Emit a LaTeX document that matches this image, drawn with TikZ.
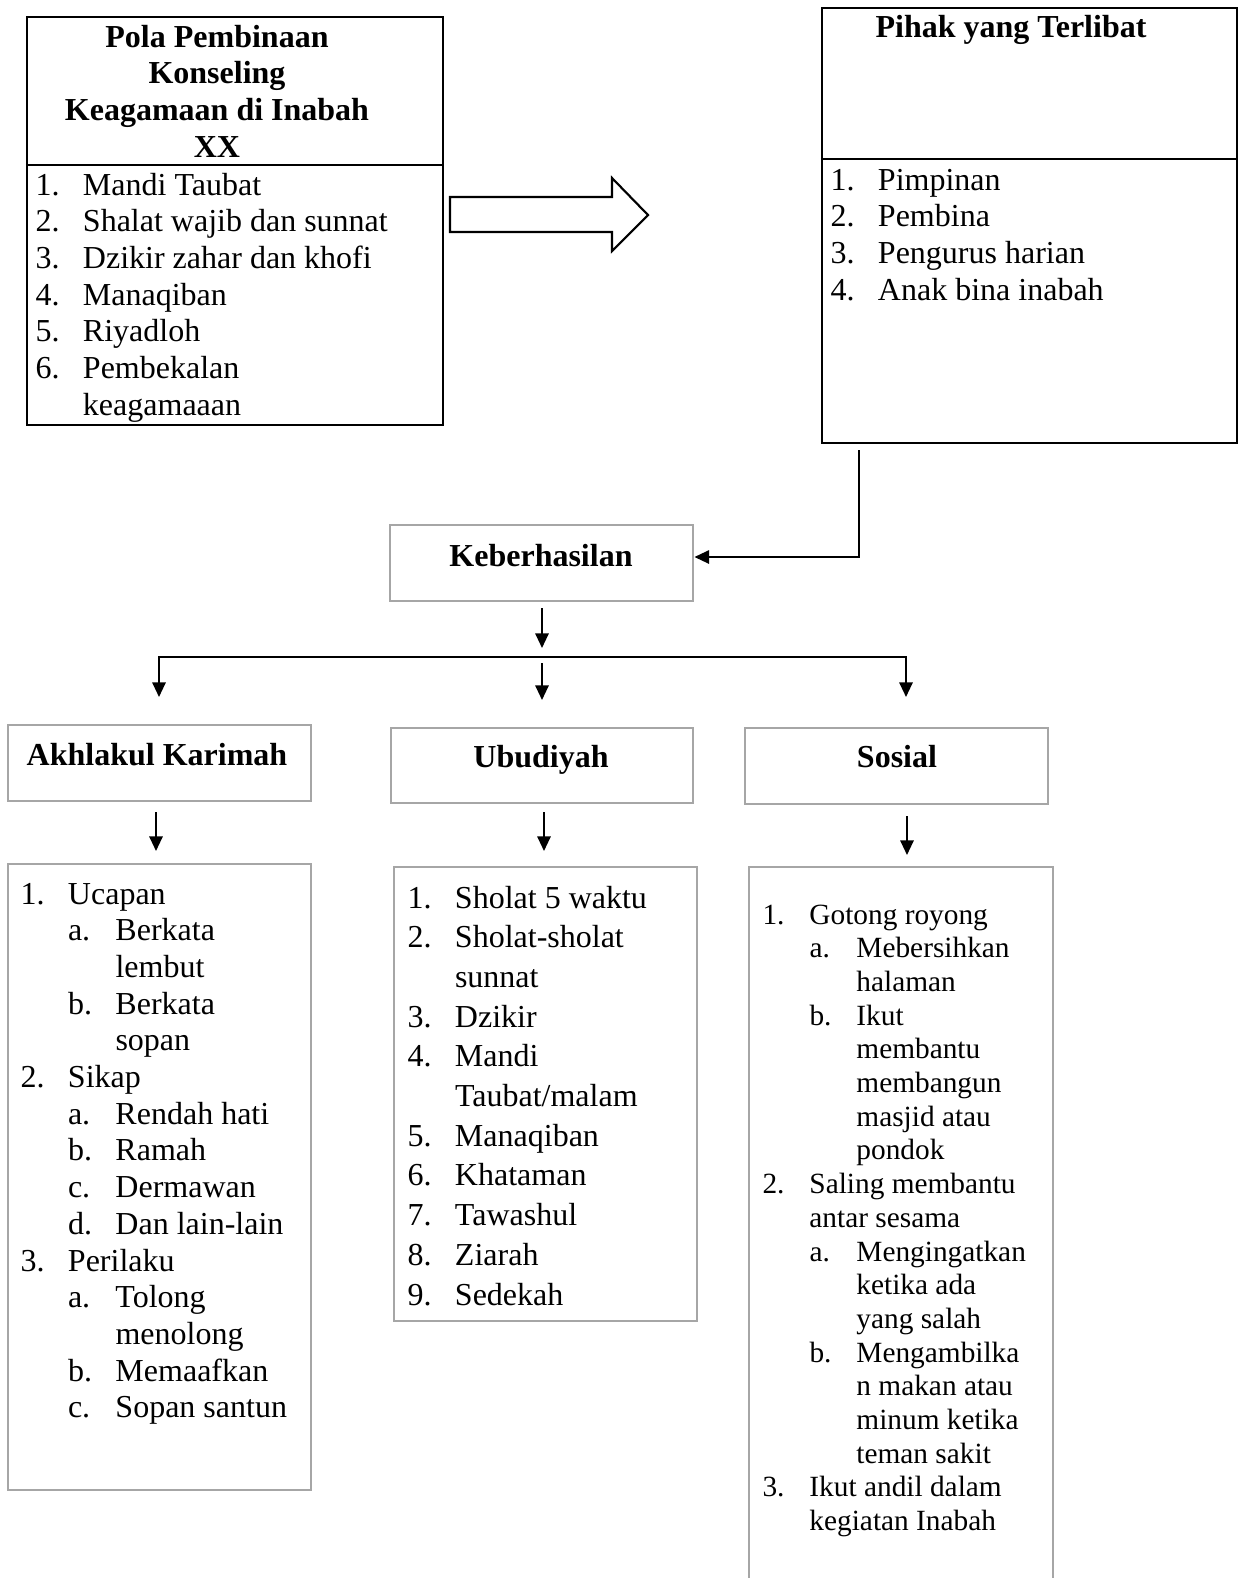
\documentclass[tikz,border=0pt]{standalone}
\usepackage{fontspec}
\setmainfont{Liberation Serif}
\usetikzlibrary{arrows.meta,fit,calc}
\begin{document}
\begin{tikzpicture}[x=0.375pt,y=-0.375pt,
  box/.style={draw, line width=0.8pt, inner sep=0pt},
  gbox/.style={draw=black!35, line width=1.1pt, inner sep=0pt},
  arr/.style={line width=0.75pt, -{Triangle[length=5.5pt,width=5pt]}},
  arrboth/.style={line width=0.75pt, {Triangle[length=5.5pt,width=5pt]}-{Triangle[length=5.5pt,width=5pt]}},
  ln/.style={line width=0.75pt},
  txt/.style={inner sep=0pt, font=\fontsize{12pt}{14pt}\selectfont, anchor=base west},
  stxt/.style={inner sep=0pt, font=\fontsize{11pt}{13pt}\selectfont, anchor=base west},
  ttl/.style={inner sep=0pt, font=\fontsize{12pt}{14pt}\selectfont\bfseries, anchor=base},
]
\clip (0,0) rectangle (1240,1578);
\fill[white] (0,0) rectangle (1240,1578);

% ---------- top-left box ----------
\node[box, fit={(27,17) (443,425)}] (box1) {};
\draw[box] ($(box1.north west)+(0,149)$) -- ($(box1.north east)+(0,149)$);
\foreach \t [count=\i] in {Pola Pembinaan, Konseling, Keagamaan di Inabah, XX}
  \node[ttl] (ta-\i) at ({217},{47+(\i-1)*36.7}) {\t};
\foreach \lv/\lb/\tx [count=\i] in {0/1./Mandi Taubat, 0/2./Shalat wajib dan sunnat, 0/3./Dzikir zahar dan khofi, 0/4./Manaqiban, 0/5./Riyadloh, 0/6./Pembekalan, 0//keagamaaan}
  \node[txt] (la-\i) at ({35+\lv*47.5},{195+(\i-1)*36.7}) {\makebox[17.8pt][l]{\lb}\tx};

% ---------- block arrow ----------
\draw[line width=0.8pt, fill=white] (450,197) -- (612,197) -- (612,178) -- (648,215) -- (612,251) -- (612,232) -- (450,232) -- cycle;

% ---------- top-right box ----------
\node[box, fit={(822,8) (1237,443)}] (box2) {};
\draw[box] ($(box2.north west)+(0,152)$) -- ($(box2.north east)+(0,152)$);
\node[ttl] (tb) at (1011,37) {Pihak yang Terlibat};
\foreach \lv/\lb/\tx [count=\i] in {0/1./Pimpinan, 0/2./Pembina, 0/3./Pengurus harian, 0/4./Anak bina inabah}
  \node[txt] (lb-\i) at ({830+\lv*47.5},{190+(\i-1)*36.7}) {\makebox[17.8pt][l]{\lb}\tx};

% ---------- Keberhasilan ----------
\node[gbox, fit={(390,525) (693,601)}] (keb) {};
\node[ttl] (tkeb) at (541,566) {Keberhasilan};
\coordinate (c1) at (859,450);
\draw[arr] (c1) |- ([yshift=2.25pt]keb.east);

\coordinate (k1) at (542,608);
\coordinate (k2) at (542,648);
\draw[arr] (k1) -- (k2);

\coordinate (bl) at (159,657);
\coordinate (br) at (906,657);
\draw[arrboth] ($(bl)+(0,40)$) -- (bl) -- (br) -- ($(br)+(0,40)$);
\coordinate (m1) at (542,663);
\coordinate (m2) at (542,700);
\draw[arr] (m1) -- (m2);

% ---------- second row ----------
\node[gbox, fit={(8,725) (311,801)}] (ak) {};
\node[ttl] (tak) at (157,765) {Akhlakul Karimah};
\node[gbox, fit={(391,728) (693,803)}] (ub) {};
\node[ttl] (tub) at (541,767) {Ubudiyah};
\node[gbox, fit={(745,728) (1048,804)}] (so) {};
\node[ttl] (tso) at (897,767) {Sosial};

\coordinate (a1) at (156,812);
\coordinate (a2) at (156,851);
\draw[arr] (a1) -- (a2);
\coordinate (u1) at (544,812);
\coordinate (u2) at (544,851);
\draw[arr] (u1) -- (u2);
\coordinate (s1) at (907,816);
\coordinate (s2) at (907,855);
\draw[arr] (s1) -- (s2);

% ---------- lists ----------
\node[gbox, fit={(8,864) (311,1490)}] (akl) {};
\foreach \lv/\lb/\tx [count=\i] in {0/1./Ucapan, 1/a./Berkata, 1//lembut, 1/b./Berkata, 1//sopan, 0/2./Sikap, 1/a./Rendah hati, 1/b./Ramah, 1/c./Dermawan, 1/d./Dan lain-lain, 0/3./Perilaku, 1/a./Tolong, 1//menolong, 1/b./Memaafkan, 1/c./Sopan santun}
  \node[txt] (lak-\i) at ({20+\lv*47.5},{904+(\i-1)*36.7}) {\makebox[17.8pt][l]{\lb}\tx};

\node[gbox, fit={(394,867) (697,1321)}] (ubl) {};
\foreach \lv/\lb/\tx [count=\i] in {0/1./Sholat 5 waktu, 0/2./Sholat-sholat, 0//sunnat, 0/3./Dzikir, 0/4./Mandi, 0//{Taubat/malam}, 0/5./Manaqiban, 0/6./Khataman, 0/7./Tawashul, 0/8./Ziarah, 0/9./Sedekah}
  \node[txt] (lub-\i) at ({407+\lv*47.5},{908+(\i-1)*39.7}) {\makebox[17.8pt][l]{\lb}\tx};

\node[gbox, fit={(749,867) (1053,1620)}] (sol) {};
\foreach \lv/\lb/\tx [count=\i] in {0/1./Gotong royong, 1/a./Mebersihkan, 1//halaman, 1/b./Ikut, 1//membantu, 1//membangun, 1//masjid atau, 1//pondok, 0/2./Saling membantu, 0//antar sesama, 1/a./Mengingatkan, 1//ketika ada, 1//yang salah, 1/b./Mengambilka, 1//n makan atau, 1//minum ketika, 1//teman sakit, 0/3./Ikut andil dalam, 0//kegiatan Inabah}
  \node[stxt] (lso-\i) at ({762+\lv*47},{924+(\i-1)*33.7}) {\makebox[17.6pt][l]{\lb}\tx};
\end{tikzpicture}
\end{document}
